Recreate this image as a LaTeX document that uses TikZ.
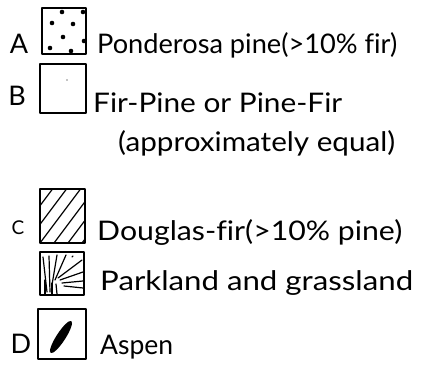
\documentclass[tikz,border=0pt]{standalone}
\usepackage{fontspec}
\usepackage{graphicx}
\setmainfont[Ligatures=NoCommon]{Lato}
\newcommand\fitto[2]{\resizebox{#1}{\height}{#2}}
\begin{document}
\begin{tikzpicture}[x=1pt,y=-1pt,
  legbox/.style={line width=1.6pt,line join=round},
  lbl/.style={inner sep=0pt,anchor=base west,font=\fontsize{27}{30}\selectfont},
  key/.style={inner sep=0pt,anchor=base,font=\fontsize{27}{30}\selectfont},
  dotmark/.style={fill=black},
  stroke/.style={line width=1.2pt,line cap=round}]
\useasboundingbox (0,0) rectangle (424,375);
% keys
\node[key] (kA) at (19,53) {A};
\node[key] (kB) at (17,105) {B};
\node[key,font=\fontsize{19}{22}\selectfont] (kC) at (18,234) {C};
\node[key] (kD) at (21,353) {D};
% box A : dots
\draw[legbox] (42,8) rectangle (86,54);
\node[inner sep=0pt] (boxA) at (64,31) {};
\foreach \p in {(62,12),(83,12),(52,23),(73,24),(63,37),(84,41),(50,48),(71,51)}
  \fill[dotmark] \p circle (2.3);
% box B : blank
\draw[legbox] (40,64) rectangle (86,113);
\node[inner sep=0pt] (boxB) at (63,88) {};
\fill (67,80) circle (0.7);
% box C : hatched
\draw[legbox] (40,189) rectangle (85,243);
\node[inner sep=0pt] (boxC) at (62,216) {};
\begin{scope}
  \clip (40,189) rectangle (85,243);
  \foreach \c in {-2,12,26,40,54,68,82}
    \draw[stroke] (\c,243) -- (\c+40.5,189);
\end{scope}
% box parkland
\draw[legbox] (40,252) -- (84,252) -- (84,295) -- (40,295) -- cycle;
\node[inner sep=0pt] (boxP) at (62,273) {};
\draw[stroke] (47,292) -- (43,257);
\draw[stroke] (50,292) -- (49,256);
\draw[stroke] (52,285) -- (57,255);
\draw[stroke] (55,280) -- (66,255);
\draw[stroke] (58,278) -- (82,260);
\draw[stroke] (60,280) -- (83,272);
\draw[stroke] (62,283) -- (83,281);
\draw[stroke] (64,286) -- (83,288);
\draw[stroke] (45,294) -- (45,280);
\draw[stroke] (52,294) -- (52,283);
\draw[stroke] (57,294) -- (56,284);
\draw[stroke] (72,257) -- (73,256);
% box D : aspen
\draw[legbox] (38,309) rectangle (86,359);
\node[inner sep=0pt] (boxD) at (62,334) {};
\fill[rotate around={57:(61,337)}] (61,337) ellipse (19 and 4.5);
% labels
\node[lbl] (tA) at (97,53) {\fitto{300pt}{Ponderosa pine(>10\% f\kern0pt ir)}};
\node[lbl] (tB) at (93,112) {\fitto{249pt}{Fir-Pine or Pine-Fir}};
\node[lbl] (tB2) at (118,151) {\fitto{277pt}{(approximately equal)}};
\node[lbl] (tC) at (97,240) {\fitto{305pt}{Douglas-f\kern0pt ir(>10\% pine)}};
\node[lbl] (tP) at (100,290) {\fitto{313pt}{Parkland and grassland}};
\node[lbl] (tD) at (100,354) {\fitto{73pt}{Aspen}};
\end{tikzpicture}
\end{document}
